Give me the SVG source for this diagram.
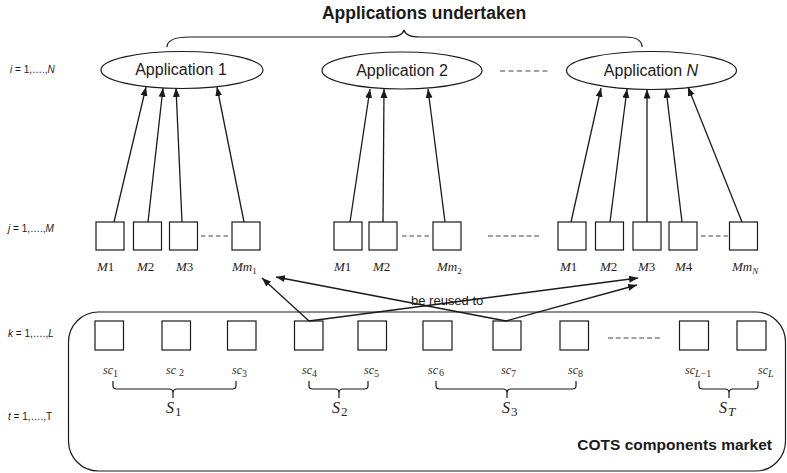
<svg xmlns="http://www.w3.org/2000/svg" width="787" height="473" viewBox="0 0 787 473">
<style>
.bg{fill:#ffffff}
.ell{fill:#ffffff;stroke:#1a1a1a;stroke-width:1.2}
.box{fill:#ffffff;stroke:#1a1a1a;stroke-width:1.2}
.ln{stroke:#1a1a1a;stroke-width:1.3;fill:none}
.dash{stroke:#444;stroke-width:1.2;fill:none}
.brace{stroke:#1a1a1a;stroke-width:1.2;fill:none}
.sans{font-family:"Liberation Sans",Arial,sans-serif;fill:#1a1a1a}
.title{font-family:"Liberation Sans",Arial,sans-serif;font-weight:bold;font-size:17.5px;fill:#1a1a1a}
.cots{font-family:"Liberation Sans",Arial,sans-serif;font-weight:bold;font-size:15.5px;fill:#1a1a1a}
.app{font-family:"Liberation Sans",Arial,sans-serif;font-size:16px;fill:#1a1a1a}
.side{font-family:"Liberation Sans",Arial,sans-serif;font-size:10px;fill:#1a1a1a}
.m{font-family:"Liberation Serif","Times New Roman",serif;font-size:13px;fill:#2a2320}
.sc{font-family:"Liberation Serif","Times New Roman",serif;font-style:italic;font-size:12px;fill:#3a2c20}
.s{font-family:"Liberation Serif","Times New Roman",serif;font-style:italic;font-size:16px;fill:#2a2320}
</style>
<defs>
<marker id="ah" markerUnits="userSpaceOnUse" markerWidth="10" markerHeight="8" refX="9" refY="3.5" orient="auto">
<path d="M0,0 L9,3.5 L0,7 Z" fill="#1a1a1a"/>
</marker>
</defs>
<rect class="bg" x="0" y="0" width="787" height="473"/>

<g id="title">
<text class="title" x="424" y="19" text-anchor="middle">Applications undertaken</text>
<path class="brace" d="M167,47 C167,40 175,37 190,37 H388 C398,37 403,34 404,30 C405,34 410,37 420,37 H625 C636,37 642,40 642,47"/>
</g>

<g id="side-labels">
<text class="side" x="10" y="73"><tspan font-style="italic">i</tspan>  = 1,….,<tspan font-style="italic">N</tspan></text>
<text class="side" x="8" y="232"><tspan font-style="italic">j</tspan>  = 1,….,<tspan font-style="italic">M</tspan></text>
<text class="side" x="8" y="337"><tspan font-style="italic">k</tspan>  = 1,….,<tspan font-style="italic">L</tspan></text>
<text class="side" x="8" y="420"><tspan font-style="italic">t</tspan>  = 1,….,T</text>
</g>

<g id="app1"><ellipse class="ell" cx="182" cy="70" rx="81" ry="18.5"/><text class="app" x="181" y="75" text-anchor="middle">Application 1</text></g>
<g id="app2"><ellipse class="ell" cx="402" cy="70.5" rx="80" ry="18.5"/><text class="app" x="402" y="76" text-anchor="middle">Application 2</text></g>
<g id="appN"><ellipse class="ell" cx="651.5" cy="70.5" rx="85" ry="19"/><text class="app" x="651" y="76" text-anchor="middle">Application <tspan font-style="italic">N</tspan></text></g>
<path class="dash" d="M500,71 H548" stroke-dasharray="5,3.5"/>

<g id="modules">
<rect class="box" x="96" y="222" width="28" height="28"/>
<rect class="box" x="133.5" y="222" width="28" height="28"/>
<rect class="box" x="169.5" y="222" width="28" height="28"/>
<rect class="box" x="232" y="222" width="28" height="28"/>
<path class="dash" d="M201,236 H229" stroke-dasharray="4.5,3"/>
<rect class="box" x="334" y="222" width="28" height="28"/>
<rect class="box" x="369" y="222" width="28" height="28"/>
<rect class="box" x="433" y="222" width="28" height="28"/>
<path class="dash" d="M402,236 H431" stroke-dasharray="4.5,3"/>
<path class="dash" d="M488,236 H539" stroke-dasharray="5,2.7"/>
<rect class="box" x="558" y="222" width="28" height="28"/>
<rect class="box" x="595.5" y="222" width="28" height="28"/>
<rect class="box" x="633" y="222" width="28" height="28"/>
<rect class="box" x="669" y="222" width="28" height="28"/>
<rect class="box" x="729.5" y="222" width="28" height="28"/>
<path class="dash" d="M701,236 H728" stroke-dasharray="4.5,3"/>
</g>

<g id="module-labels">
<text class="m" x="97" y="271"><tspan font-style="italic">M</tspan>1</text>
<text class="m" x="137" y="271"><tspan font-style="italic">M</tspan>2</text>
<text class="m" x="176" y="271"><tspan font-style="italic">M</tspan>3</text>
<text class="m" x="232" y="271"><tspan font-style="italic">Mm</tspan><tspan font-size="9" dy="3">1</tspan></text>
<text class="m" x="334" y="271"><tspan font-style="italic">M</tspan>1</text>
<text class="m" x="373" y="271"><tspan font-style="italic">M</tspan>2</text>
<text class="m" x="437" y="271"><tspan font-style="italic">Mm</tspan><tspan font-size="9" dy="3">2</tspan></text>
<text class="m" x="560" y="271"><tspan font-style="italic">M</tspan>1</text>
<text class="m" x="600" y="271"><tspan font-style="italic">M</tspan>2</text>
<text class="m" x="638" y="271"><tspan font-style="italic">M</tspan>3</text>
<text class="m" x="675" y="271"><tspan font-style="italic">M</tspan>4</text>
<text class="m" x="732" y="271"><tspan font-style="italic">Mm</tspan><tspan font-size="9" font-style="italic" dy="3">N</tspan></text>
</g>

<g id="market">
<rect class="box" x="68.5" y="312" width="717" height="159" rx="30" ry="30"/>
<text class="cots" x="772" y="450" text-anchor="end">COTS components market</text>
</g>

<g id="components">
<rect class="box" x="95" y="321" width="28.5" height="29"/>
<rect class="box" x="162" y="321" width="28.5" height="29"/>
<rect class="box" x="227.5" y="321" width="28.5" height="29"/>
<rect class="box" x="294.5" y="321" width="28.5" height="29"/>
<rect class="box" x="358" y="321" width="28.5" height="29"/>
<rect class="box" x="423" y="321" width="29" height="29"/>
<rect class="box" x="493" y="321" width="28" height="29"/>
<rect class="box" x="560" y="321" width="28.5" height="29"/>
<rect class="box" x="679.5" y="321" width="29" height="29"/>
<rect class="box" x="737" y="321" width="29" height="29"/>
<path class="dash" d="M608,338 H661" stroke-dasharray="5,2.8"/>
</g>

<g id="component-labels">
<text class="sc" x="103" y="374">sc<tspan font-size="10" font-style="normal" dy="3">1</tspan></text>
<text class="sc" x="166" y="374">sc <tspan font-size="10" font-style="normal" dy="2">2</tspan></text>
<text class="sc" x="232" y="374">sc<tspan font-size="10" font-style="normal" dy="3">3</tspan></text>
<text class="sc" x="302" y="374">sc<tspan font-size="10" font-style="normal" dy="3">4</tspan></text>
<text class="sc" x="364" y="374">sc<tspan font-size="10" font-style="normal" dy="3">5</tspan></text>
<text class="sc" x="428" y="374">sc<tspan font-size="10" font-style="normal" dy="2" dx="1">6</tspan></text>
<text class="sc" x="501" y="374">sc<tspan font-size="10" font-style="normal" dy="3">7</tspan></text>
<text class="sc" x="568" y="374">sc<tspan font-size="10" font-style="normal" dy="3">8</tspan></text>
<text class="sc" x="685" y="374">sc<tspan font-size="10" dy="3">L</tspan><tspan font-size="10" font-style="normal">−1</tspan></text>
<text class="sc" x="758" y="374">sc<tspan font-size="10" dy="3">L</tspan></text>
</g>

<g id="sets">
<path class="brace" d="M113,381 V386 Q113,389 117,389 H169 Q173,389 173,393 V398 M173,393 Q173,389 177,389 H232 Q236,389 236,386 V381"/>
<path class="brace" d="M309,381 V386 Q309,389 313,389 H335 Q339,389 339,393 V398 M339,393 Q339,389 343,389 H364 Q368,389 368,386 V381"/>
<path class="brace" d="M436,381 V386 Q436,389 440,389 H503 Q507,389 507,393 V398 M507,393 Q507,389 511,389 H572 Q576,389 576,386 V381"/>
<path class="brace" d="M699,381 V386 Q699,389 703,389 H725 Q729,389 729,393 V398 M729,393 Q729,389 733,389 H754 Q758,389 758,386 V381"/>
<text class="s" x="166" y="413">S<tspan font-size="13" font-style="normal" dy="3" dx="1">1</tspan></text>
<text class="s" x="332" y="413">S<tspan font-size="13" font-style="normal" dy="3" dx="1">2</tspan></text>
<text class="s" x="502" y="413">S<tspan font-size="13" font-style="normal" dy="3" dx="1">3</tspan></text>
<text class="s" x="719" y="413">S<tspan font-size="13" dy="3" dx="1">T</tspan></text>
</g>

<g id="connectors">
<line class="ln" x1="114" y1="222" x2="146" y2="87" marker-end="url(#ah)"/>
<line class="ln" x1="148" y1="222" x2="163" y2="88" marker-end="url(#ah)"/>
<line class="ln" x1="182" y1="222" x2="176" y2="88" marker-end="url(#ah)"/>
<line class="ln" x1="244" y1="222" x2="217" y2="87" marker-end="url(#ah)"/>
<line class="ln" x1="350" y1="222" x2="370" y2="89" marker-end="url(#ah)"/>
<line class="ln" x1="383" y1="222" x2="384" y2="89" marker-end="url(#ah)"/>
<line class="ln" x1="445" y1="222" x2="428" y2="89" marker-end="url(#ah)"/>
<line class="ln" x1="571" y1="222" x2="601" y2="88" marker-end="url(#ah)"/>
<line class="ln" x1="610" y1="222" x2="627" y2="89" marker-end="url(#ah)"/>
<line class="ln" x1="647" y1="222" x2="647" y2="89.5" marker-end="url(#ah)"/>
<line class="ln" x1="682" y1="222" x2="666" y2="89" marker-end="url(#ah)"/>
<line class="ln" x1="742" y1="222" x2="688" y2="87" marker-end="url(#ah)"/>
<line class="ln" x1="309" y1="321" x2="262" y2="278" marker-end="url(#ah)"/>
<line class="ln" x1="309" y1="321" x2="638" y2="278" marker-end="url(#ah)"/>
<line class="ln" x1="506" y1="321" x2="276" y2="277" marker-end="url(#ah)"/>
<line class="ln" x1="506" y1="321" x2="637" y2="285" marker-end="url(#ah)"/>
<text class="sans" x="411" y="305" font-size="13">be reused to</text>
</g>
</svg>
